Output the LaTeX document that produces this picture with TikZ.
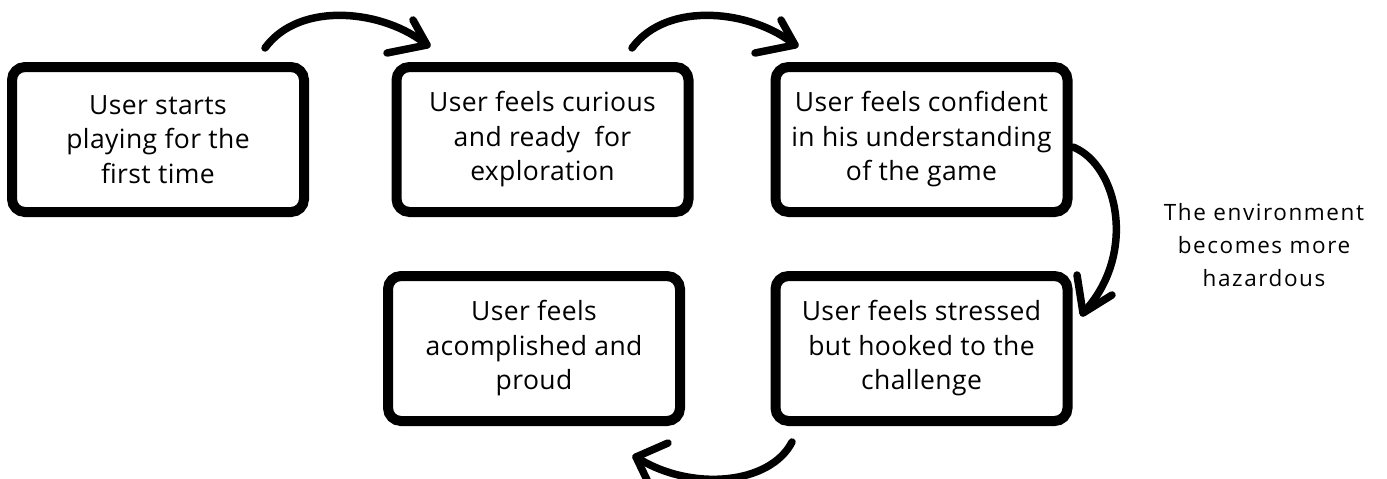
\documentclass[tikz,border=0pt]{standalone}
\usepackage{fontspec}
\setmainfont{Open Sans}[LetterSpace=1.5]
\begin{document}
\begin{tikzpicture}[x=1pt,y=-1pt,
  box/.style={draw=black, line width=10pt, rounded corners=13pt, minimum width=292pt, minimum height=145pt,
    align=center, inner sep=0pt, font=\fontsize{26.5}{34.5}\selectfont},
  arr/.style={draw=black, line width=7.5pt, line cap=round, line join=round},
  lbl/.style={align=center, inner sep=0pt, font=\fontsize{22.5}{33}\selectfont\addfontfeatures{LetterSpace=7}}]
\useasboundingbox[fill=white] (0,0) rectangle (1387,479);
\node[box] (b1) at (158,139.5) {User starts\\playing for the\\first time};
\node[box] (b2) at (542.5,139.5) {User feels curious\\and ready\ \ for\\exploration};
\node[box] (b3) at (921.5,139.5) {User feels confident\\in his understanding\\of the game};
\node[box] (b4) at (921.5,348.5) {User feels stressed\\but hooked to the\\challenge};
\node[box] (b5) at (534,348.5) {User feels\\acomplished and\\proud};
\node[lbl] (l1) at (1264,245) {The environment\\becomes more\\hazardous};
% arrow 1
\coordinate (a1s) at (265,48);
\coordinate (a1e) at (427,45);
\draw[arr] (a1s) .. controls (300,0) and (385,10) .. (a1e);
\draw[arr] (a1e) ++(-14,-25) -- (a1e) -- ++(-40,8);
% arrow 2
\coordinate (a2s) at (632,48);
\coordinate (a2e) at (795,45);
\draw[arr] (a2s) .. controls (667,0) and (753,10) .. (a2e);
\draw[arr] (a2e) ++(-14,-25) -- (a2e) -- ++(-40,8);
% arrow 3
\coordinate (a3s) at (1073,147);
\coordinate (a3e) at (1083,313);
\draw[arr] (a3s) .. controls (1118,165) and (1138,255) .. (a3e);
\draw[arr] (a3e) ++(-6,-38) -- (a3e) -- ++(29,-18);
% arrow 4
\coordinate (a4s) at (792,442);
\coordinate (a4e) at (636,457);
\draw[arr] (a4s) .. controls (770,485) and (690,492) .. (a4e);
\draw[arr] (a4e) ++(32,-14) -- (a4e) -- ++(12,25);
\end{tikzpicture}
\end{document}
